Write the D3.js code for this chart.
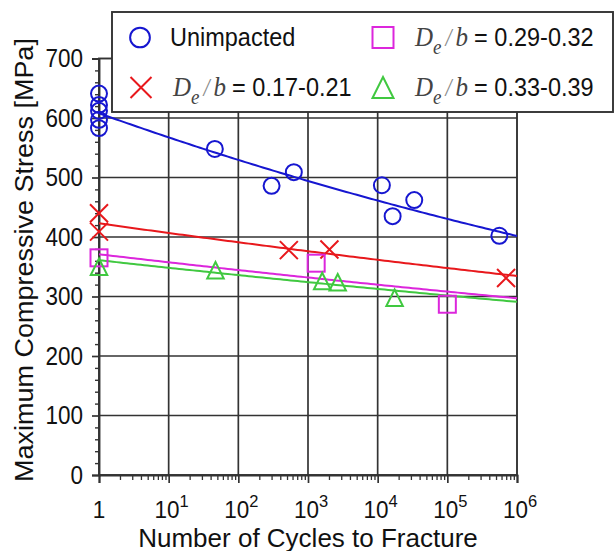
<!DOCTYPE html>
<html><head><meta charset="utf-8">
<script src="https://cdn.jsdelivr.net/npm/d3@7"></script>
<style>body{margin:0;background:#fff}svg{display:block}</style>
</head><body><svg id="c" width="615" height="551"></svg>
<script>
// ---- data ----
const unimpactedN = [1, 1, 1, 1, 1, 46, 300, 626, 11500, 16400, 33500, 558000];
const unimpactedS = [641, 622, 612, 597, 583, 548, 486, 509, 487, 435, 462, 402];
const de017N = [1, 1, 531, 2030, 697000];
const de017S = [440, 409, 378, 379, 331];
const de029N = [1, 1310, 100000];
const de029S = [365, 356, 287];
const de033N = [1, 47, 1600, 2670, 17500];
const de033S = [350, 344, 326, 324, 298];
// power-law fit S = A * N^B for each series
const fitA = [608, 423, 371, 361];
const fitB = [-0.0300, -0.0170, -0.0161, -0.0156];
const xTickValues = [1, 10, 100, 1e3, 1e4, 1e5, 1e6];
const xTickExps = ["", "1", "2", "3", "4", "5", "6"];
const yTickValues = [0, 100, 200, 300, 400, 500, 600, 700];
const legendRatios = ["", "0.17-0.21", "0.29-0.32", "0.33-0.39"];
const colors = ["#1616d0", "#e8181c", "#dc26dc", "#40c840"];

const svg = d3.select("#c");
const L = 99, R = 517, T = 58.5, B = 475;
const x = d3.scaleLog().domain([1, 1e6]).range([L, R]);
const y = d3.scaleLinear().domain([0, 700]).range([B, T]);
const gridC = "#333";
const sans = "Liberation Sans, Arial, sans-serif";
const vs = 1.12; // vertical stretch of the reference's lettering

// grid
const g = svg.append("g");
g.selectAll(".vg").data(xTickValues.slice(1, -1)).enter().append("line")
  .attr("x1", d => x(d)).attr("x2", d => x(d)).attr("y1", T).attr("y2", B)
  .attr("stroke", gridC).attr("stroke-width", 1.7);
g.selectAll(".hg").data(yTickValues.slice(1, -1)).enter().append("line")
  .attr("x1", L).attr("x2", R).attr("y1", d => y(d)).attr("y2", d => y(d))
  .attr("stroke", gridC).attr("stroke-width", 1.7);
g.append("rect").attr("x", L).attr("y", T).attr("width", R - L).attr("height", B - T)
  .attr("fill", "none").attr("stroke", gridC).attr("stroke-width", 1.9);

// y axis
const yAx = svg.append("g").attr("transform", `translate(${L},0)`)
  .call(d3.axisLeft(y).tickValues(yTickValues).tickSize(7).tickPadding(9).tickFormat(d3.format("d")));
yAx.select(".domain").attr("stroke", gridC).attr("stroke-width", 1.9);
yAx.selectAll(".tick line").attr("stroke", gridC).attr("stroke-width", 1.7);
yAx.selectAll("text").attr("font-family", sans).attr("font-size", 22.5).attr("fill", "#111")
  .attr("transform", `scale(1,${vs})`);
const yMinor = d3.range(0, 701, 20).filter(v => v % 100 !== 0);
svg.append("g").attr("transform", `translate(${L},0)`)
  .call(d3.axisLeft(y).tickValues(yMinor).tickSize(4).tickFormat(""))
  .call(s => s.select(".domain").remove())
  .selectAll(".tick line").attr("stroke", gridC).attr("stroke-width", 1.4);

// x axis
const xAx = svg.append("g").attr("transform", `translate(0,${B})`)
  .call(d3.axisBottom(x).tickValues(xTickValues).tickSize(8).tickFormat(""));
xAx.select(".domain").attr("stroke", gridC).attr("stroke-width", 1.9);
xAx.selectAll(".tick line").attr("stroke", gridC).attr("stroke-width", 1.7);
const xMinor = [];
for (let e = 0; e < 6; e++) for (let m = 2; m <= 9; m++) xMinor.push(m * Math.pow(10, e));
svg.append("g").attr("transform", `translate(0,${B})`)
  .call(d3.axisBottom(x).tickValues(xMinor).tickSize(5).tickFormat(""))
  .call(s => s.select(".domain").remove())
  .selectAll(".tick line").attr("stroke", gridC).attr("stroke-width", 1.3);

xTickValues.forEach((v, i) => {
  const t = svg.append("text").attr("transform", `translate(${x(v) + (i ? 3 : 0)},517.5) scale(1,1.05)`)
    .attr("text-anchor", "middle").attr("font-size", 22.5).attr("font-family", sans).attr("fill", "#111");
  if (i === 0) { t.text("1"); }
  else {
    t.append("tspan").text("10");
    t.append("tspan").attr("dy", -10).attr("font-size", 16.5).text(xTickExps[i]);
  }
});

// axis titles
svg.append("text").attr("x", 308).attr("y", 546.5).attr("text-anchor", "middle")
  .attr("font-family", sans).attr("font-size", 26).attr("fill", "#111")
  .text("Number of Cycles to Fracture");
svg.append("text").attr("transform", "translate(33,260) rotate(-90) scale(1.08,1)")
  .attr("text-anchor", "middle")
  .attr("font-family", sans).attr("font-size", 25).attr("fill", "#111")
  .text("Maximum Compressive Stress [MPa]");

// fit curves
const sampleExp = d3.range(0, 6.0001, 0.05);
const line = d3.line().x(d => x(d[0])).y(d => y(d[1]));
const plot = svg.append("g");
fitA.forEach((A, i) => {
  const pts = sampleExp.map(e => [Math.pow(10, e), A * Math.pow(10, e * fitB[i])]);
  plot.append("path").attr("d", line(pts)).attr("fill", "none")
    .attr("stroke", colors[i]).attr("stroke-width", 2);
});

// markers
function marker(sel, type, cx, cy, s, col) {
  const sw = 2;
  const h = s / 2;
  if (type === 0) sel.append("circle").attr("cx", cx).attr("cy", cy).attr("r", s * 0.47)
    .attr("fill", "none").attr("stroke", col).attr("stroke-width", sw);
  else if (type === 1)
    sel.append("path").attr("d", `M${cx - h},${cy - h}L${cx + h},${cy + h}M${cx - h},${cy + h}L${cx + h},${cy - h}`)
      .attr("stroke", col).attr("stroke-width", sw).attr("fill", "none");
  else if (type === 2)
    sel.append("rect").attr("x", cx - h).attr("y", cy - h).attr("width", s).attr("height", s)
      .attr("fill", "none").attr("stroke", col).attr("stroke-width", sw);
  else
    sel.append("path").attr("d", `M${cx},${cy - h}L${cx + h},${cy + h}L${cx - h},${cy + h}Z`)
      .attr("fill", "none").attr("stroke", col).attr("stroke-width", sw);
}
const series = [[unimpactedN, unimpactedS], [de017N, de017S], [de029N, de029S], [de033N, de033S]];
const sizes = [17, 18, 17, 16.5];
series.forEach(([N, S], i) => {
  N.forEach((n, j) => marker(plot, i, x(n), y(S[j]), sizes[i], colors[i]));
});

// legend
const lg = svg.append("g");
lg.append("rect").attr("x", 112).attr("y", 12).attr("width", 501).attr("height", 100)
  .attr("fill", "#fff").attr("stroke", "#333").attr("stroke-width", 1.9);
const legPos = [[140, 37.5], [141, 87.5], [383, 37.5], [383, 87.5]];
const serif = "Liberation Serif, Times New Roman, serif";
legPos.forEach(([lx, ly], i) => {
  marker(lg, i, lx, ly, 21, colors[i]);
  const t = lg.append("text").attr("transform", `translate(${lx + (i === 0 ? 30 : 32)},${ly + 8}) scale(1,${vs})`)
    .attr("font-family", sans).attr("font-size", 23.5).attr("fill", "#111");
  if (i === 0) { t.text("Unimpacted"); return; }
  t.append("tspan").attr("font-family", serif).attr("font-style", "italic").attr("font-size", 25).attr("fill", "#444").text("D");
  t.append("tspan").attr("font-family", serif).attr("font-style", "italic").attr("font-size", 19).attr("dy", 8).attr("fill", "#444").text("e");
  t.append("tspan").attr("font-family", serif).attr("font-style", "italic").attr("font-size", 22).attr("dy", -8).attr("dx", 4).attr("fill", "#888").text("/");
  t.append("tspan").attr("font-family", serif).attr("font-style", "italic").attr("font-size", 25).attr("dx", 4).attr("fill", "#444").text("b");
  t.append("tspan").attr("dx", 6).text("= " + legendRatios[i]);
});
</script></body></html>
